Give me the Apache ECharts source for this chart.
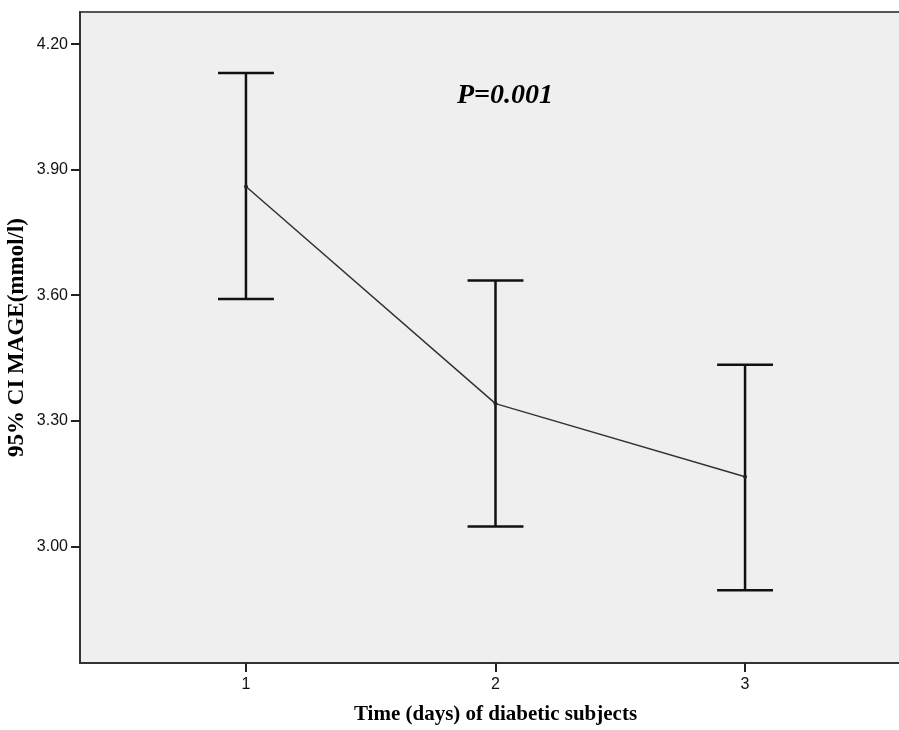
<!DOCTYPE html>
<html><head><meta charset="utf-8">
<script src="https://cdn.jsdelivr.net/npm/echarts@6/dist/echarts.min.js"></script>
<style>html,body{margin:0;padding:0;background:#fff}#c{width:899px;height:730px}</style>
</head><body><div id="c"></div>
<script>
const days = [1, 2, 3];
const means = [3.860, 3.341, 3.166];
const lower = [3.591, 3.047, 2.895];
const upper = [4.131, 3.635, 3.434];
const yTicks = [3.00, 3.30, 3.60, 3.90, 4.20];
const xTicks = [1, 2, 3];

const chart = echarts.init(document.getElementById('c'));
const capHalf = 0.112;
chart.setOption({
  animation: false,
  backgroundColor: '#ffffff',
  grid: { left: 80, top: 12, right: -12, bottom: 67, outerBoundsMode: 'none', containLabel: false, show: true, backgroundColor: '#efefef', borderColor: '#555', borderWidth: 2 },
  xAxis: {
    type: 'value', min: 0.335, max: 3.665,
    name: 'Time (days) of diabetic subjects', nameLocation: 'middle', nameGap: 41,
    nameTextStyle: { fontFamily: 'Liberation Serif', fontWeight: 'bold', fontSize: 21, color: '#000' },
    axisLine: { show: true, lineStyle: { color: '#333', width: 2 } },
    axisTick: { show: true, customValues: xTicks, length: 9, lineStyle: { color: '#222', width: 2 } },
    axisLabel: { customValues: xTicks, fontFamily: 'Liberation Sans', fontSize: 16, color: '#111', margin: 14 },
    splitLine: { show: false }
  },
  yAxis: {
    type: 'value', min: 2.721, max: 4.277,
    name: '95% CI MAGE(mmol/l)', nameLocation: 'middle', nameGap: 51, nameRotate: 90, nameMoveOverlap: false,
    nameTextStyle: { fontFamily: 'Liberation Serif', fontWeight: 'bold', fontSize: 23, color: '#000' },
    axisLine: { show: true, lineStyle: { color: '#333', width: 2 } },
    axisTick: { show: true, customValues: yTicks, length: 9, lineStyle: { color: '#222', width: 2 } },
    axisLabel: { customValues: yTicks, formatter: v => v.toFixed(2), fontFamily: 'Liberation Sans', fontSize: 16, color: '#111', margin: 12 },
    splitLine: { show: false }
  },
  series: [
    {
      type: 'custom',
      data: days.map((d, i) => [d, lower[i], upper[i]]),
      renderItem: function (params, api) {
        const x = api.value(0), lo = api.value(1), hi = api.value(2);
        const pLo = api.coord([x, lo]), pHi = api.coord([x, hi]);
        const l = api.coord([x - capHalf, lo])[0], r = api.coord([x + capHalf, lo])[0];
        const st = { stroke: '#111', lineWidth: 2.5 };
        return { type: 'group', children: [
          { type: 'line', shape: { x1: pLo[0], y1: pLo[1], x2: pHi[0], y2: pHi[1] }, style: st },
          { type: 'line', shape: { x1: l, y1: pHi[1], x2: r, y2: pHi[1] }, style: st },
          { type: 'line', shape: { x1: l, y1: pLo[1], x2: r, y2: pLo[1] }, style: st }
        ]};
      },
      z: 2
    },
    {
      type: 'line',
      data: days.map((d, i) => [d, means[i]]),
      symbol: 'circle', symbolSize: 4,
      itemStyle: { color: '#222' },
      lineStyle: { color: '#333', width: 1.5 },
      z: 3
    }
  ],
  graphic: [{
    type: 'text', left: 457, top: 82,
    style: { text: 'P=0.001', font: 'italic bold 28px "Liberation Serif"', fill: '#000' }
  }]
});
</script></body></html>
